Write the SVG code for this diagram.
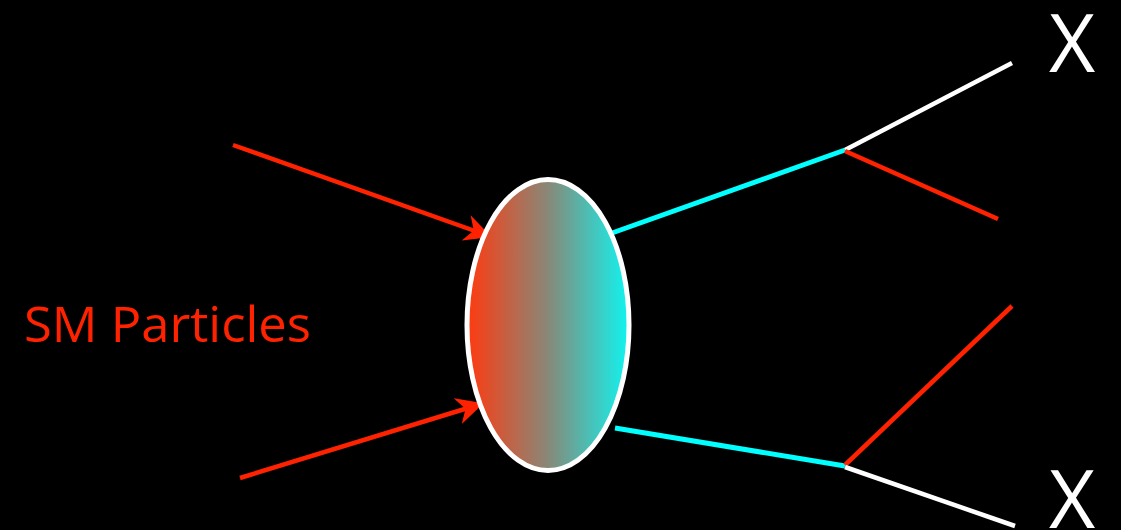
<svg xmlns="http://www.w3.org/2000/svg" width="1121" height="530" viewBox="0 0 1121 530">
<style>
.red{stroke:#ff2200;stroke-width:4.5;fill:none}
.cyan{stroke:#00ffff;stroke-width:5;fill:none}
.white{stroke:#ffffff;stroke-width:4.5;fill:none}
.lbl{font-family:"Open Sans","Liberation Sans",sans-serif}
</style>
<defs>
<linearGradient id="g" x1="0" y1="0" x2="1" y2="0">
<stop offset="0" stop-color="#ff3a10"/>
<stop offset="0.5" stop-color="#888878"/>
<stop offset="1" stop-color="#10f4f0"/>
</linearGradient>
<marker id="ah" viewBox="0 0 10 10" refX="9" refY="5" markerWidth="6" markerHeight="6" orient="auto" markerUnits="strokeWidth">
<path d="M0,0 L10,5 L0,10 L3,5 Z" fill="#ff2200"/>
</marker>
</defs>
<rect width="1121" height="530" fill="#000"/>
<g id="connectors">
<line class="red" x1="233" y1="145" x2="489" y2="236" marker-end="url(#ah)"/>
<line class="red" x1="240" y1="478" x2="481" y2="404" marker-end="url(#ah)"/>
<line class="cyan" x1="612" y1="233" x2="845" y2="150"/>
<line class="cyan" x1="615" y1="428" x2="845" y2="466"/>
<line class="white" x1="845" y1="150" x2="1012" y2="63"/>
<line class="red" x1="845" y1="151" x2="998" y2="219"/>
<line class="red" x1="845" y1="465" x2="1012" y2="306"/>
<line class="white" x1="845" y1="467" x2="1015" y2="526"/>
</g>
<g id="blob">
<ellipse cx="548" cy="325" rx="81" ry="145.5" fill="url(#g)" stroke="#ffffff" stroke-width="5"/>
</g>
<g id="sm-label">
<text class="lbl" x="24" y="342" font-size="50" fill="#ff2200" textLength="287" lengthAdjust="spacingAndGlyphs">SM Particles</text>
</g>
<g id="x-top">
<text class="lbl" x="1072" y="72" font-size="80" fill="#ffffff" text-anchor="middle">X</text>
</g>
<g id="x-bottom">
<text class="lbl" x="1072" y="528" font-size="80" fill="#ffffff" text-anchor="middle">X</text>
</g>
</svg>
